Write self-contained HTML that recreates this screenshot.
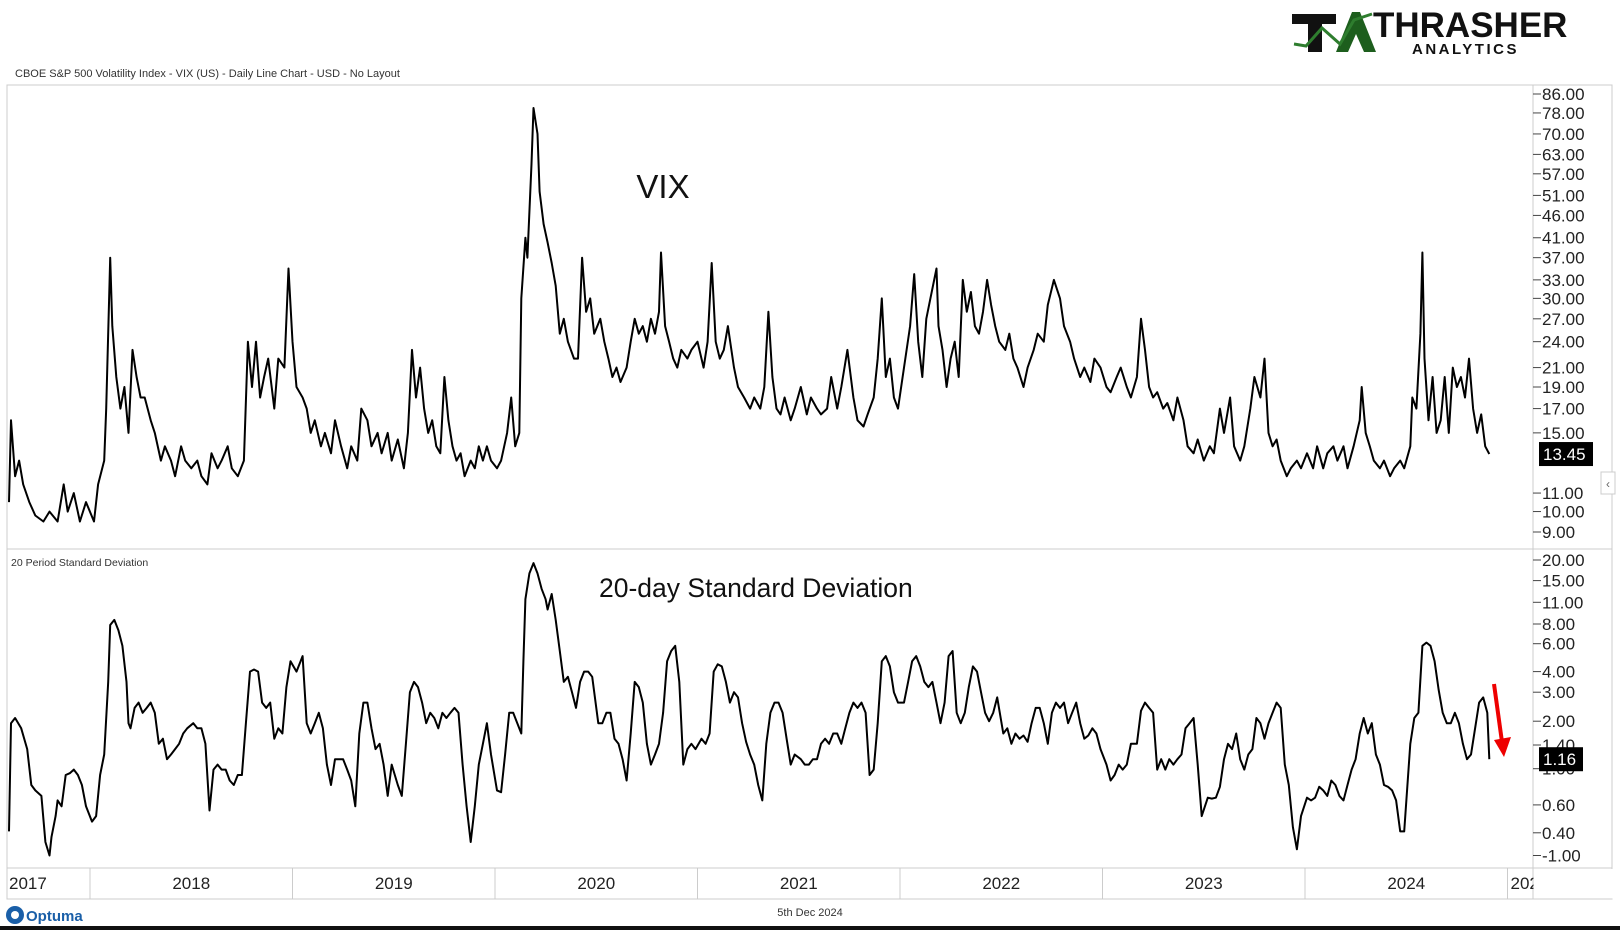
<!DOCTYPE html>
<html><head><meta charset="utf-8">
<style>
html,body{margin:0;padding:0;background:#fff;}
body{width:1620px;height:930px;overflow:hidden;font-family:"Liberation Sans",sans-serif;}
svg text{font-family:"Liberation Sans",sans-serif;}
</style></head>
<body>
<svg id="chart" width="1620" height="930" viewBox="0 0 1620 930" xmlns="http://www.w3.org/2000/svg">
  <rect x="0" y="0" width="1620" height="930" fill="#fff"/>
  <g>
    <path d="M1292 14 H1336 V24 H1322 V52 H1308 V24 H1292 Z" fill="#111"/>
    <path d="M1336 52 L1352 12 H1360 L1376 52 H1364 L1356 34 L1348 52 Z" fill="#1d5e1d"/>
    <polyline points="1294,44 1306,46 1322,28 1340,44 1354,20 1372,14" fill="none" stroke="#2e7d2e" stroke-width="3"/>
    <text x="1373" y="37" font-size="35" font-weight="bold" fill="#111">THRASHER</text>
    <text x="1412" y="54" font-size="15" font-weight="bold" fill="#111" letter-spacing="2.5">ANALYTICS</text>
  </g>
  <text x="15" y="77" font-size="11" fill="#333">CBOE S&amp;P 500 Volatility Index - VIX (US) - Daily Line Chart - USD - No Layout</text>
  <rect x="7" y="85" width="1605" height="814" fill="none" stroke="#ccc"/>
  <line x1="7" y1="549" x2="1612" y2="549" stroke="#ccc"/>
  <line x1="7" y1="868" x2="1612" y2="868" stroke="#ccc"/>
  <line x1="1533" y1="85" x2="1533" y2="899" stroke="#ccc"/>
  <text x="11" y="566" font-size="10.5" fill="#333">20 Period Standard Deviation</text>
  <text x="663" y="198" font-size="33" text-anchor="middle" fill="#111">VIX</text>
  <text x="599" y="597" font-size="26.5" fill="#111">20-day Standard Deviation</text>
  <g id="vixAxis"></g><g id="stdAxis"></g><g id="xAxis"></g>
  <g id="vixLine"></g><g id="stdLine"></g>
  <g>
    <line x1="1494" y1="684" x2="1502" y2="742" stroke="#e00" stroke-width="4"/>
    <polygon points="1494,740 1511,737 1504,757" fill="#e00"/>
  </g>
  <g>
    <rect x="1601" y="472" width="14" height="22" fill="#fff" stroke="#ccc"/>
    <text x="1608" y="488" font-size="12" text-anchor="middle" fill="#666">‹</text>
  </g>
  <g>
    <circle cx="15" cy="915" r="9" fill="#1a5fa8"/>
    <circle cx="15" cy="915" r="4" fill="#fff"/>
    <text x="26" y="921" font-size="15" font-weight="bold" fill="#1a5fa8">Optuma</text>
    <text x="810" y="916" font-size="11" text-anchor="middle" fill="#333">5th Dec 2024</text>
    <rect x="0" y="926" width="1620" height="4" fill="#111"/>
  </g>
</svg>
<script>
const vixDates=[2017.60,2017.61,2017.63,2017.65,2017.67,2017.70,2017.73,2017.77,2017.80,2017.84,2017.87,2017.89,2017.92,2017.95,2017.98,2018.02,2018.04,2018.07,2018.08,2018.10,2018.11,2018.13,2018.15,2018.17,2018.19,2018.21,2018.23,2018.25,2018.27,2018.30,2018.32,2018.35,2018.37,2018.40,2018.42,2018.45,2018.47,2018.50,2018.53,2018.55,2018.58,2018.60,2018.63,2018.65,2018.68,2018.70,2018.73,2018.76,2018.78,2018.80,2018.82,2018.84,2018.86,2018.88,2018.91,2018.93,2018.96,2018.98,2019.00,2019.02,2019.05,2019.07,2019.09,2019.11,2019.14,2019.16,2019.19,2019.21,2019.24,2019.27,2019.29,2019.32,2019.34,2019.37,2019.39,2019.42,2019.44,2019.47,2019.49,2019.52,2019.55,2019.57,2019.59,2019.61,2019.63,2019.65,2019.67,2019.69,2019.71,2019.73,2019.75,2019.77,2019.79,2019.81,2019.83,2019.85,2019.88,2019.90,2019.92,2019.94,2019.96,2019.98,2020.01,2020.03,2020.06,2020.08,2020.10,2020.12,2020.13,2020.15,2020.16,2020.18,2020.19,2020.21,2020.22,2020.24,2020.26,2020.28,2020.30,2020.32,2020.34,2020.36,2020.39,2020.41,2020.43,2020.45,2020.47,2020.49,2020.52,2020.54,2020.56,2020.58,2020.60,2020.62,2020.65,2020.67,2020.69,2020.71,2020.73,2020.75,2020.77,2020.79,2020.81,2020.82,2020.84,2020.86,2020.88,2020.90,2020.92,2020.95,2020.97,2021.00,2021.03,2021.05,2021.07,2021.09,2021.11,2021.13,2021.15,2021.18,2021.20,2021.23,2021.26,2021.28,2021.31,2021.33,2021.35,2021.37,2021.39,2021.41,2021.43,2021.46,2021.48,2021.51,2021.54,2021.56,2021.59,2021.61,2021.64,2021.66,2021.69,2021.71,2021.74,2021.77,2021.79,2021.82,2021.84,2021.87,2021.89,2021.91,2021.93,2021.95,2021.97,2021.99,2022.02,2022.05,2022.07,2022.09,2022.11,2022.13,2022.15,2022.18,2022.19,2022.21,2022.23,2022.25,2022.27,2022.29,2022.31,2022.33,2022.35,2022.37,2022.39,2022.41,2022.43,2022.45,2022.47,2022.49,2022.52,2022.54,2022.56,2022.58,2022.61,2022.63,2022.66,2022.68,2022.71,2022.73,2022.76,2022.79,2022.81,2022.84,2022.86,2022.89,2022.91,2022.94,2022.96,2022.99,2023.02,2023.04,2023.07,2023.09,2023.12,2023.14,2023.17,2023.19,2023.21,2023.23,2023.25,2023.27,2023.30,2023.32,2023.35,2023.37,2023.40,2023.42,2023.45,2023.47,2023.50,2023.53,2023.55,2023.58,2023.60,2023.63,2023.65,2023.68,2023.70,2023.73,2023.75,2023.78,2023.80,2023.82,2023.84,2023.86,2023.88,2023.91,2023.93,2023.96,2023.98,2024.01,2024.04,2024.06,2024.09,2024.11,2024.14,2024.16,2024.19,2024.21,2024.24,2024.27,2024.28,2024.30,2024.32,2024.34,2024.37,2024.39,2024.42,2024.44,2024.47,2024.49,2024.52,2024.53,2024.55,2024.57,2024.58,2024.59,2024.61,2024.63,2024.65,2024.67,2024.69,2024.71,2024.73,2024.75,2024.77,2024.79,2024.81,2024.83,2024.85,2024.87,2024.89,2024.91];
const vixValues=[10.5,16,12,13,11.5,10.5,9.8,9.5,10,9.5,11.5,10,11,9.5,10.5,9.5,11.5,13,17,37,26,20,17,19,15,23,20,18,18,16,15,13,14,13,12,14,13,12.5,13,12,11.5,13.5,12.5,13,14,12.5,12,13,24,19,24,18,20,22,17,22,21,35,24,19,18,17,15,16,14,15,13.5,16,14,12.5,14,13,17,16,14,15,13.5,15,13,14.5,12.5,15,23,18,21,17,15,16,14,13.5,20,16,14,13,13.5,12,13,12.5,14,13,14,13,12.5,13,15,18,14,15,30,41,37,60,80,70,52,44,40,36,32,25,27,24,22,22,37,28,30,25,27,24,22,20,21,19.5,21,24,27,25,26,24,27,25,28,38,26,24,22,21,23,22,23,24,21,24,36,24,22,23,26,21,19,18,17,18,17,19,28,20,17,16.5,18,16,17,19,16.5,18,17,16.5,17,20,17,19,23,18,16,15.5,16.5,18,22,30,20,22,18,17,21,26,34,24,20,27,30,35,26,23,19,22,24,20,33,28,31,26,25,28,33,29,26,24,23,25,22,21,19,21,23,25,24,29,33,30,26,24,22,20,21,19.5,22,21,19,18.5,20,21,19,18,20,27,23,19,18,18.5,17,17.5,16,18,16,14,13.5,14.5,13,14,13.5,17,15,18,14,13,14,17,20,18,22,15,14,14.5,13,12,12.5,13,12.5,13.5,12.5,14,12.5,13.5,14,13,14,12.5,14,16,19,15,14,13,12.5,13,12,12.5,13,12.5,14,18,17,25,38,22,16,20,15,16,20,15,21,19,20,18,22,17,15,16.5,14,13.45];
const stdDates=[2017.60,2017.61,2017.63,2017.66,2017.69,2017.71,2017.73,2017.76,2017.78,2017.80,2017.81,2017.83,2017.84,2017.86,2017.88,2017.90,2017.92,2017.94,2017.96,2017.98,2018.01,2018.03,2018.05,2018.07,2018.09,2018.10,2018.12,2018.14,2018.16,2018.18,2018.19,2018.20,2018.22,2018.24,2018.26,2018.28,2018.30,2018.32,2018.34,2018.36,2018.38,2018.40,2018.42,2018.44,2018.46,2018.48,2018.51,2018.53,2018.55,2018.57,2018.59,2018.61,2018.63,2018.65,2018.67,2018.69,2018.71,2018.73,2018.75,2018.77,2018.79,2018.81,2018.83,2018.85,2018.87,2018.89,2018.91,2018.93,2018.95,2018.97,2018.99,2019.02,2019.04,2019.05,2019.07,2019.09,2019.11,2019.13,2019.15,2019.17,2019.19,2019.21,2019.23,2019.25,2019.27,2019.29,2019.31,2019.33,2019.35,2019.37,2019.39,2019.41,2019.43,2019.45,2019.47,2019.49,2019.52,2019.54,2019.56,2019.58,2019.60,2019.62,2019.64,2019.66,2019.68,2019.70,2019.72,2019.74,2019.76,2019.78,2019.80,2019.82,2019.84,2019.86,2019.88,2019.90,2019.92,2019.94,2019.96,2019.98,2020.01,2020.03,2020.05,2020.07,2020.09,2020.11,2020.13,2020.14,2020.15,2020.17,2020.19,2020.21,2020.23,2020.25,2020.26,2020.28,2020.30,2020.32,2020.34,2020.36,2020.38,2020.40,2020.42,2020.44,2020.46,2020.48,2020.51,2020.53,2020.55,2020.57,2020.59,2020.61,2020.63,2020.65,2020.67,2020.69,2020.71,2020.73,2020.75,2020.77,2020.79,2020.81,2020.83,2020.85,2020.87,2020.89,2020.91,2020.93,2020.95,2020.97,2020.99,2021.02,2021.04,2021.06,2021.08,2021.10,2021.12,2021.14,2021.16,2021.18,2021.20,2021.22,2021.24,2021.26,2021.28,2021.30,2021.32,2021.34,2021.36,2021.38,2021.40,2021.42,2021.44,2021.46,2021.48,2021.51,2021.53,2021.55,2021.57,2021.59,2021.61,2021.63,2021.65,2021.67,2021.69,2021.71,2021.73,2021.75,2021.77,2021.79,2021.81,2021.83,2021.85,2021.87,2021.89,2021.91,2021.93,2021.95,2021.97,2021.99,2022.02,2022.04,2022.06,2022.08,2022.10,2022.12,2022.14,2022.16,2022.18,2022.20,2022.22,2022.24,2022.26,2022.28,2022.30,2022.32,2022.34,2022.36,2022.38,2022.40,2022.42,2022.44,2022.46,2022.48,2022.51,2022.53,2022.55,2022.57,2022.59,2022.61,2022.63,2022.65,2022.67,2022.69,2022.71,2022.73,2022.75,2022.77,2022.79,2022.81,2022.83,2022.85,2022.87,2022.89,2022.91,2022.93,2022.95,2022.97,2022.99,2023.02,2023.04,2023.06,2023.08,2023.10,2023.12,2023.14,2023.17,2023.19,2023.21,2023.23,2023.25,2023.27,2023.29,2023.31,2023.33,2023.35,2023.37,2023.39,2023.41,2023.43,2023.45,2023.47,2023.49,2023.52,2023.54,2023.56,2023.58,2023.60,2023.62,2023.64,2023.66,2023.68,2023.70,2023.72,2023.74,2023.76,2023.78,2023.80,2023.82,2023.84,2023.86,2023.88,2023.90,2023.92,2023.94,2023.96,2023.98,2024.01,2024.03,2024.05,2024.07,2024.09,2024.11,2024.13,2024.15,2024.17,2024.19,2024.21,2024.23,2024.25,2024.27,2024.29,2024.31,2024.33,2024.35,2024.37,2024.39,2024.41,2024.43,2024.45,2024.47,2024.49,2024.52,2024.54,2024.56,2024.58,2024.60,2024.62,2024.64,2024.66,2024.68,2024.70,2024.72,2024.74,2024.76,2024.78,2024.80,2024.82,2024.84,2024.86,2024.88,2024.90,2024.91];
const stdValues=[0.41,1.95,2.11,1.82,1.33,0.82,0.76,0.70,-0.17,-1.0,0.15,0.52,0.65,0.59,0.93,0.95,0.99,0.93,0.82,0.59,0.48,0.52,0.93,1.24,3.5,7.9,8.57,7.37,5.85,3.5,1.95,1.82,2.46,2.64,2.29,2.46,2.64,2.29,1.43,1.56,1.16,1.24,1.33,1.43,1.69,1.82,1.95,1.82,1.82,1.43,0.56,0.99,1.07,0.99,0.99,0.87,0.82,0.93,0.93,1.95,4.0,4.15,4.0,2.64,2.46,2.64,1.56,1.82,1.69,3.25,4.74,4.0,4.74,5.11,1.95,1.69,1.95,2.29,1.82,1.07,0.82,1.16,1.16,1.16,0.99,0.87,0.59,1.69,2.64,2.64,1.82,1.33,1.43,1.07,0.70,1.07,0.82,0.70,1.43,3.0,3.5,3.25,2.64,1.95,2.29,2.11,1.82,2.29,2.11,2.29,2.46,2.29,1.07,0.59,-0.17,0.59,1.07,1.43,1.95,1.24,0.76,0.74,1.24,2.29,2.29,1.95,1.69,4.74,11.57,16.75,19.25,16.75,13.48,11.57,10.0,12.53,8.57,5.48,3.5,3.75,3.0,2.46,3.5,4.0,4.0,3.75,1.95,1.95,2.29,2.29,1.56,1.43,1.16,0.87,1.69,3.5,3.25,2.64,1.43,1.07,1.24,1.43,2.29,4.74,5.48,5.85,3.5,1.07,1.33,1.43,1.33,1.56,1.43,1.69,4.0,4.52,4.37,3.5,2.64,3.0,2.82,1.95,1.48,1.24,1.07,0.82,0.65,1.43,2.29,2.64,2.64,2.29,1.56,1.07,1.24,1.16,1.07,1.07,1.16,1.16,1.43,1.56,1.43,1.69,1.69,1.43,1.82,2.29,2.64,2.46,2.64,2.29,0.93,0.99,1.95,4.74,5.11,4.37,3.0,2.64,2.64,3.5,4.74,5.11,4.37,3.5,3.25,3.5,2.64,1.95,2.64,5.11,5.48,2.29,1.95,2.29,3.25,4.37,4.0,3.0,2.29,2.0,2.29,2.82,1.69,1.82,1.43,1.69,1.56,1.64,1.48,1.95,2.46,2.46,1.95,1.43,2.29,2.64,2.46,2.64,1.95,2.29,2.64,1.95,1.56,1.64,1.82,1.69,1.33,1.07,0.87,0.93,1.07,0.99,1.07,1.43,1.43,2.36,2.64,2.46,2.29,0.99,1.16,0.99,1.16,1.07,1.16,1.24,1.82,1.95,2.11,1.07,0.52,0.68,0.67,0.68,0.80,1.16,1.43,1.33,1.69,1.16,0.99,1.24,1.33,2.11,1.95,1.56,1.95,2.29,2.64,2.46,1.07,0.82,0.44,-0.62,0.52,0.68,0.65,0.68,0.80,0.76,0.70,0.87,0.82,0.70,0.65,0.82,0.99,1.16,1.69,2.11,1.69,1.95,1.24,1.07,0.82,0.80,0.76,0.65,0.41,0.41,1.43,2.11,2.29,5.85,6.11,5.85,4.74,3.1,2.29,1.95,1.95,2.29,1.95,1.43,1.16,1.24,1.82,2.64,2.82,2.29,1.16];
const vixTicks=[86,78,70,63,57,51,46,41,37,33,30,27,24,21,19,17,15,11,10,9];
const stdTickValues=[20,15,11,8,6,4,3,2,1.4,1.0,0.6,0.4,-1];
const stdTickLabels=["20.00","15.00","11.00","8.00","6.00","4.00","3.00","2.00","1.40","1.00","0.60","0.40","-1.00"];
const yearLabels=["2017","2018","2019","2020","2021","2022","2023","2024","202"];
const yearStarts=[2017,2018,2019,2020,2021,2022,2023,2024,2025];

const NS="http://www.w3.org/2000/svg";
function mk(tag,attrs,parent){const e=document.createElementNS(NS,tag);for(const k in attrs)e.setAttribute(k,attrs[k]);parent.appendChild(e);return e;}
// axis functions
function xScale(t){return 90+(t-2018)*202.5;}
function yVix(v){return 94+Math.log(86/v)/Math.log(86/9)*438;}
const stdPix=[560,580.6,602.3,624,643.7,671.6,692.2,721.2,745,768.7,804.9,832.8,855.5];
function yStd(v){
  const tv=stdTickValues;
  if(v>=tv[0]) return stdPix[0]-(v-tv[0])*0.08*(stdPix[1]-stdPix[0]);
  for(let i=0;i<tv.length-1;i++){
    if(v<=tv[i]&&v>=tv[i+1]){const f=(tv[i]-v)/(tv[i]-tv[i+1]);return stdPix[i]+f*(stdPix[i+1]-stdPix[i]);}
  }
  return stdPix[stdPix.length-1];
}
// VIX axis
const va=document.getElementById('vixAxis');
vixTicks.forEach(v=>{
  const y=yVix(v);
  const l=mk('line',{x1:1533,y1:y,x2:1541,y2:y,stroke:'#444'},va);
  
  
  const t=mk('text',{x:1542,y:y+6,'font-size':17,fill:'#222'},va);
  t.textContent=v.toFixed(2);
  
  
});
// std axis
const sa=document.getElementById('stdAxis');
stdTickValues.forEach((v,i)=>{
  const y=yStd(v);
  const l=mk('line',{x1:1533,y1:y,x2:1541,y2:y,stroke:'#444'},sa);
  
  
  const t=mk('text',{x:1542,y:y+6,'font-size':17,fill:'#222'},sa);
  t.textContent=stdTickLabels[i];
  
  
});
// x axis
const xa=document.getElementById('xAxis');
yearStarts.forEach((yr,i)=>{
  const x0=Math.max(7,xScale(yr)), x1=Math.min(1533,xScale(yr+1));
  if(yr>2017){const d=mk('line',{x1:xScale(yr),y1:868,x2:xScale(yr),y2:899,stroke:'#ccc'},xa);
    
    }
  const cx=yr===2017?9:(yr===2025?xScale(yr)+3:(x0+x1)/2);
  const t=mk('text',{x:cx,y:889,'font-size':17,fill:'#222','text-anchor':(yr===2017||yr===2025)?'start':'middle'},xa);
  t.textContent=yearLabels[i];
  
  
});
mk('rect',{x:1533.5,y:869,width:80,height:29.5,fill:'#fff'},xa);
const fix=mk('text',{x:1508,y:889,'font-size':17,fill:'#222'},xa);fix.textContent='';
// lines
function drawLine(g,dates,vals,yf,name){
  let d='';dates.forEach((t,i)=>{d+=(i?'L':'M')+xScale(t).toFixed(1)+' '+yf(vals[i]).toFixed(1);});
  const p=mk('path',{d:d,fill:'none',stroke:'#000','stroke-width':2,'stroke-linejoin':'round'},g);
  
  
}
drawLine(document.getElementById('vixLine'),vixDates,vixValues,yVix,'vix-line');
drawLine(document.getElementById('stdLine'),stdDates,stdValues,yStd,'stddev-line');
// value badges
function badge(v,y,w,name){
  const g=document.getElementById('chart');
  const r=mk('rect',{x:1539,y:y-12,width:w,height:24,fill:'#000'},g);
  
  
  const t=mk('text',{x:1543,y:y+6,'font-size':17,fill:'#fff'},g);
  t.textContent=v.toFixed(2);
  
  
}
badge(vixValues[vixValues.length-1],yVix(vixValues[vixValues.length-1]),54,'vix-last-value');
badge(stdValues[stdValues.length-1],yStd(stdValues[stdValues.length-1]),44,'stddev-last-value');
</script>
</body></html>
